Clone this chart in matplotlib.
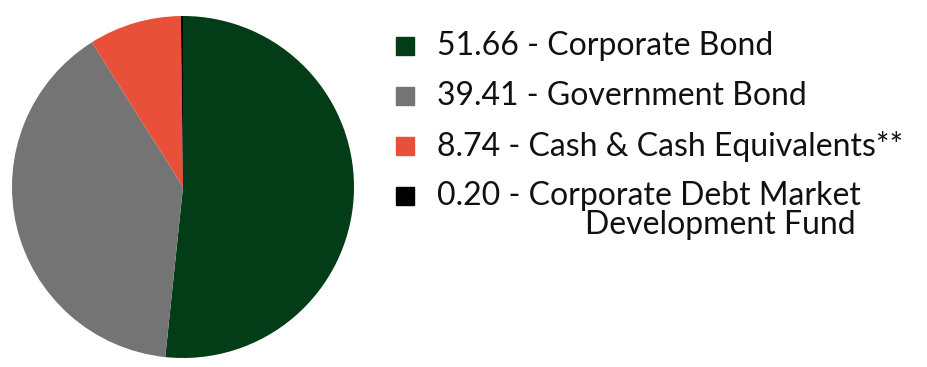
import matplotlib.pyplot as plt
from matplotlib.patches import Rectangle

# portfolio split (%)
labels = ['Corporate Bond', 'Government Bond', 'Cash & Cash Equivalents**',
          'Corporate Debt Market']
label_extra = 'Development Fund'
values = [51.66, 39.41, 8.74, 0.20]
colors = ['#023d17', '#747474', '#e8503a', '#000000']

W, H = 928, 367
fig = plt.figure(figsize=(W / 100, H / 100), dpi=100)

# pie on the left
ax = fig.add_axes([12 / W, 9 / H, 342 / W, 342 / H])
ax.pie(values, colors=colors, startangle=90, counterclock=False,
       radius=1, wedgeprops=dict(linewidth=0))
ax.set_xlim(-1, 1)
ax.set_ylim(-1, 1)
ax.set_aspect('equal')

# legend drawn by hand
row_y = [46, 96, 146, 196]
for i, (lab, val, col) in enumerate(zip(labels, values, colors)):
    y = row_y[i]
    fig.patches.append(Rectangle((396 / W, (H - y - 9) / H), 18 / W, 18 / H,
                                 transform=fig.transFigure, color=col))
    fig.text(437 / W, (H - y) / H, f'{val:.2f} - {lab}', fontsize=23,
             family='Lato', va='center', ha='left', color='#111111')
fig.text(585 / W, (H - 225) / H, label_extra, fontsize=23,
         family='Lato', va='center', ha='left', color='#111111')

fig.savefig('out.png', dpi=100)
